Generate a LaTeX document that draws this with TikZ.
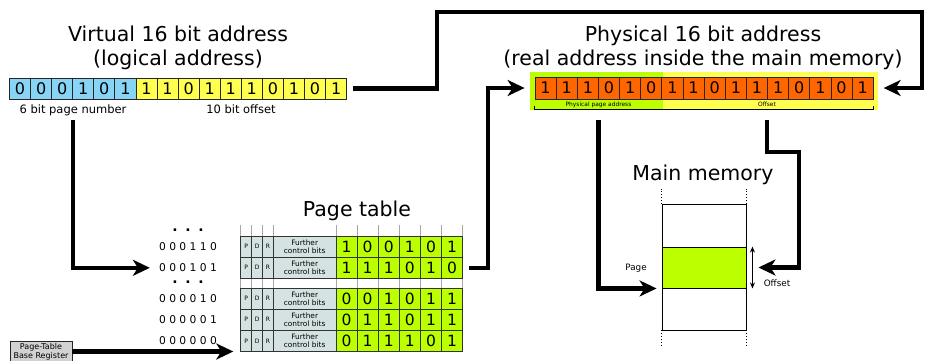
\documentclass[tikz,border=0pt]{standalone}
\usepackage{fontspec}
\setmainfont{DejaVu Sans}
\usetikzlibrary{arrows.meta}
\definecolor{bitblue}{RGB}{135,212,245}
\definecolor{bityellow}{RGB}{255,255,80}
\definecolor{bitorange}{RGB}{255,102,0}
\definecolor{limeg}{RGB}{187,255,0}
\definecolor{ctrlgrey}{RGB}{213,226,226}
\definecolor{regrey}{RGB}{210,210,210}
\newcommand\ptrow[9]{%
  \node[ctl,minimum width=11pt] (#1P) at (246.2,#2) {P};
  \node[ctl,minimum width=11pt] (#1D) at (257.2,#2) {D};
  \node[ctl,minimum width=10.6pt] (#1R) at (268,#2) {R};
  \node[ctl,minimum width=62.7pt,align=center,font=\fontsize{7.4}{8}\selectfont] (#1F) at (304.65,#2) {Further\\control bits};
  \node[ptbit] (#1b1) at (346.55,#2) {#4};
  \node[ptbit] (#1b2) at (367.65,#2) {#5};
  \node[ptbit] (#1b3) at (388.75,#2) {#6};
  \node[ptbit] (#1b4) at (409.85,#2) {#7};
  \node[ptbit] (#1b5) at (430.95,#2) {#8};
  \node[ptbit] (#1b6) at (452.05,#2) {#9};
  \node[rowlab] (#1L) at (188,#2) {#3};
}
\begin{document}
\begin{tikzpicture}[x=1pt,y=-1pt,
  title/.style={font=\fontsize{20.5}{24}\selectfont,anchor=base,inner sep=0pt},
  caption/.style={font=\fontsize{11.5}{13}\selectfont,anchor=base,inner sep=0pt},
  minilab/.style={font=\fontsize{8.8}{10}\selectfont,anchor=base,inner sep=0pt},
  brlab/.style={font=\fontsize{5.9}{7}\selectfont,anchor=base,inner sep=0pt},
  bit/.style={draw=black!85,line width=0.8pt,minimum width=21.07pt,minimum height=21pt,inner sep=0pt,font=\fontsize{16}{16}\selectfont},
  pbit/.style={bit,fill=bitorange,minimum width=21.14pt,minimum height=22pt},
  ptbit/.style={draw=black!80,line width=0.8pt,fill=limeg,minimum width=21.1pt,minimum height=21.2pt,inner sep=0pt,font=\fontsize{15.5}{15.5}\selectfont},
  ctl/.style={draw=black!80,line width=0.8pt,fill=ctrlgrey,minimum height=21.2pt,inner sep=0pt,font=\fontsize{6}{6}\selectfont},
  rowlab/.style={font=\fontsize{10.7}{12}\selectfont,inner sep=0pt},
  dotsl/.style={font=\fontsize{14}{14}\bfseries\selectfont,anchor=base,inner sep=0pt},
  tick/.style={draw=black!35,line width=0.8pt},
  big/.style={line width=4.6pt,-{Stealth[length=17pt,width=16pt,inset=5pt]}},
  membox/.style={draw=black,line width=0.9pt,minimum width=84pt,inner sep=0pt},
  bgbox/.style={inner sep=0pt,anchor=north west,minimum height=38pt},
]
\useasboundingbox (0,0) rectangle (925,360);

% ---------- virtual address ----------
\node[title] (vt1) at (178,41.7) {Virtual 16 bit address};
\node[title] (vt2) at (178,65.7) {(logical address)};
\foreach \b [count=\i] in {0,0,0,1,0,1,1,1,0,1,1,1,0,1,0,1} {
  \ifnum\i<7 \def\bitcol{bitblue}\else\def\bitcol{bityellow}\fi
  \node[bit,fill=\bitcol] (v\i) at ({9.5+21.07*(\i-0.5)},88.5) {\b};
}
\node[caption] (pn) at (73,113) {6 bit page number};
\node[caption] (vo) at (241,113) {10 bit offset};

% ---------- physical address ----------
\node[title] (pt1) at (703,41.7) {Physical 16 bit address};
\node[title] (pt2) at (703,65.7) {(real address inside the main memory)};
\node[bgbox,fill=limeg,minimum width=133pt] (pgbg) at (530,72) {};
\node[bgbox,fill=bityellow,minimum width=215pt] (ofbg) at (663,72) {};
\foreach \b [count=\i] in {1,1,1,0,1,0,1,1,0,1,1,1,0,1,0,1} {
  \node[pbit] (p\i) at ({535+21.14*(\i-0.5)},88) {\b};
}
\draw[line width=0.8pt] ([yshift=-6.5pt]p1.south west) -- ([yshift=-10pt]p1.south west)
  -- ([yshift=-10pt]p16.south east) -- ([yshift=-6.5pt]p16.south east);
\node[brlab] (ppa) at (598.5,106) {Physical page address};
\node[brlab] (ppo) at (767,106) {Offset};
\coordinate (ppaout) at (598.5,120);
\coordinate (offout) at (767,120);

% ---------- page table ----------
\node[title] (ptt) at (357,216) {Page table};
\foreach \x in {240.7,251.7,262.7,273.3,336,357.1,378.2,399.3,420.4,441.5,462.6} {
  \draw[tick] (\x,225) -- (\x,236);
  \draw[tick] (\x,278.4) -- (\x,288);
}
\ptrow{r1}{246.6}{0 0 0 1 1 0}{1}{0}{0}{1}{0}{1}
\ptrow{r2}{267.8}{0 0 0 1 0 1}{1}{1}{1}{0}{1}{0}
\ptrow{r3}{298.6}{0 0 0 0 1 0}{0}{0}{1}{0}{1}{1}
\ptrow{r4}{319.8}{0 0 0 0 0 1}{0}{1}{1}{0}{1}{1}
\ptrow{r5}{341.0}{0 0 0 0 0 0}{0}{1}{1}{1}{0}{1}
\node[dotsl] (d1) at (188,231) {.\hspace{7.7pt}.\hspace{7.7pt}.};
\node[dotsl] (d2) at (188,283) {.\hspace{7.7pt}.\hspace{7.7pt}.};

\node[draw=black!85,line width=0.8pt,fill=regrey,minimum width=62pt,minimum height=21pt,inner sep=0pt,
  align=center,font=\fontsize{8}{9.4}\selectfont] (ptbr) at (41,351.5) {Page-Table\\Base Register};

% ---------- main memory ----------
\node[title] (mmt) at (703,180) {Main memory};
\node[membox,minimum height=43pt] (m1) at (704,225.5) {};
\node[membox,minimum height=41pt,fill=limeg] (mg) at (704,267.5) {};
\node[membox,minimum height=42pt] (m3) at (704,309) {};
\draw[dotted,line width=0.9pt] (m1.north west) -- ++(0,-15);
\draw[dotted,line width=0.9pt] (m1.north east) -- ++(0,-15);
\draw[dotted,line width=0.9pt] (m3.south west) -- ++(0,15);
\draw[dotted,line width=0.9pt] (m3.south east) -- ++(0,15);
\draw[line width=0.9pt,{Stealth[length=6pt,width=5pt]}-{Stealth[length=6pt,width=5pt]}]
  ([xshift=6pt]mg.north east) -- ([xshift=6pt]mg.south east);
\node[minilab] (pgl) at (636,270) {Page};
\node[minilab] (ofl) at (777,286) {Offset};

% ---------- connectors ----------
\draw[big] ([xshift=5.5pt]v16.east) -| (437,12) -| (922,88) -- ([xshift=10pt]p16.east);
\draw[big] ([xshift=5.5pt]r2b6.east) -| (488,88) -- ([xshift=-10pt]p1.west);
\draw[big] ([yshift=-7pt]pn.base) |- ([xshift=-9pt]r2L.west);
\draw[big] (ptbr.east) -- ([xshift=-7pt]ptbr.east -| r5P.west);
\draw[big] (ppaout) |- ([xshift=-5pt]mg.south west);
\draw[big] (offout) |- (799,152) |- ([xshift=12pt]mg.east);
\end{tikzpicture}
\end{document}
